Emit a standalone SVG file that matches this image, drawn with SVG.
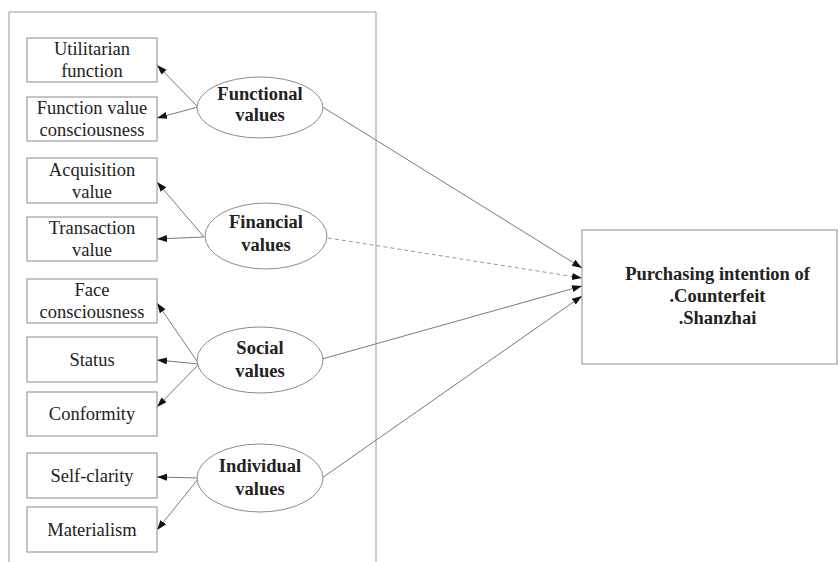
<svg xmlns="http://www.w3.org/2000/svg" width="838" height="562" viewBox="0 0 838 562">
<style>
.box{fill:#fff;stroke:#8c8c8c;stroke-width:1}
.ell{fill:#fff;stroke:#8c8c8c;stroke-width:1}
.t{font-family:"Liberation Serif","Times New Roman",serif;font-size:18.5px;fill:#222;text-anchor:middle}
.b{font-weight:bold}
.c{fill:none;stroke:#7a7a7a;stroke-width:1}
.d{stroke-dasharray:4 3;stroke:#999}
</style>
<defs>
<marker id="ah" markerUnits="userSpaceOnUse" markerWidth="11" markerHeight="8" refX="10" refY="3.5" orient="auto">
<path d="M0,0 L10,3.5 L0,7 z" fill="#111"/>
</marker>
</defs>
<rect width="838" height="562" fill="#fff"/>
<path d="M9,562 V12 H376 V562" fill="none" stroke="#999" stroke-width="1"/>

<g id="connectors">
<line class="c" x1="198" y1="107" x2="157" y2="65" marker-end="url(#ah)"/>
<line class="c" x1="198" y1="107" x2="157" y2="118" marker-end="url(#ah)"/>
<line class="c" x1="204" y1="237" x2="157" y2="182" marker-end="url(#ah)"/>
<line class="c" x1="204" y1="237" x2="157" y2="239" marker-end="url(#ah)"/>
<line class="c" x1="199" y1="364" x2="157" y2="303" marker-end="url(#ah)"/>
<line class="c" x1="199" y1="364" x2="157" y2="360" marker-end="url(#ah)"/>
<line class="c" x1="199" y1="364" x2="157" y2="407" marker-end="url(#ah)"/>
<line class="c" x1="199" y1="478" x2="157" y2="477" marker-end="url(#ah)"/>
<line class="c" x1="199" y1="478" x2="157" y2="530" marker-end="url(#ah)"/>
<line class="c" x1="321" y1="106" x2="582" y2="268" marker-end="url(#ah)"/>
<line class="c d" x1="328" y1="238" x2="582" y2="278" marker-end="url(#ah)"/>
<line class="c" x1="322" y1="359" x2="582" y2="286" marker-end="url(#ah)"/>
<line class="c" x1="322" y1="478" x2="582" y2="296" marker-end="url(#ah)"/>
</g>

<g id="utilitarian"><rect class="box" x="27" y="38" width="130" height="44"/><text class="t" x="92" y="55">Utilitarian</text><text class="t" x="92" y="77">function</text></g>
<g id="function-value"><rect class="box" x="27" y="97" width="130" height="44"/><text class="t" x="92" y="114">Function value</text><text class="t" x="92" y="136">consciousness</text></g>
<g id="acquisition"><rect class="box" x="27" y="158" width="130" height="45"/><text class="t" x="92" y="175.5">Acquisition</text><text class="t" x="92" y="197.5">value</text></g>
<g id="transaction"><rect class="box" x="27" y="217" width="130" height="44"/><text class="t" x="92" y="234">Transaction</text><text class="t" x="92" y="256">value</text></g>
<g id="face"><rect class="box" x="27" y="279" width="130" height="44"/><text class="t" x="92" y="296">Face</text><text class="t" x="92" y="318">consciousness</text></g>
<g id="status"><rect class="box" x="27" y="337" width="130" height="45"/><text class="t" x="92" y="365.5">Status</text></g>
<g id="conformity"><rect class="box" x="27" y="392" width="130" height="44"/><text class="t" x="92" y="420">Conformity</text></g>
<g id="self-clarity"><rect class="box" x="27" y="453" width="130" height="45"/><text class="t" x="92" y="481.5">Self-clarity</text></g>
<g id="materialism"><rect class="box" x="27" y="507" width="130" height="45"/><text class="t" x="92" y="535.5">Materialism</text></g>

<g id="functional"><ellipse class="ell" cx="260" cy="107.5" rx="63" ry="30.5"/><text class="t b" x="260" y="100">Functional</text><text class="t b" x="260" y="121">values</text></g>
<g id="financial"><ellipse class="ell" cx="266" cy="236" rx="61" ry="33"/><text class="t b" x="266" y="228">Financial</text><text class="t b" x="266" y="251">values</text></g>
<g id="social"><ellipse class="ell" cx="260" cy="360" rx="63" ry="33"/><text class="t b" x="260" y="354">Social</text><text class="t b" x="260" y="377">values</text></g>
<g id="individual"><ellipse class="ell" cx="260" cy="478" rx="63" ry="34"/><text class="t b" x="260" y="472">Individual</text><text class="t b" x="260" y="495">values</text></g>

<g id="purchasing"><rect class="box" x="582" y="230" width="255" height="134"/><text class="t b" x="717.5" y="280">Purchasing intention of</text><text class="t b" x="717.5" y="302">.Counterfeit</text><text class="t b" x="717.5" y="324">.Shanzhai</text></g>
</svg>
